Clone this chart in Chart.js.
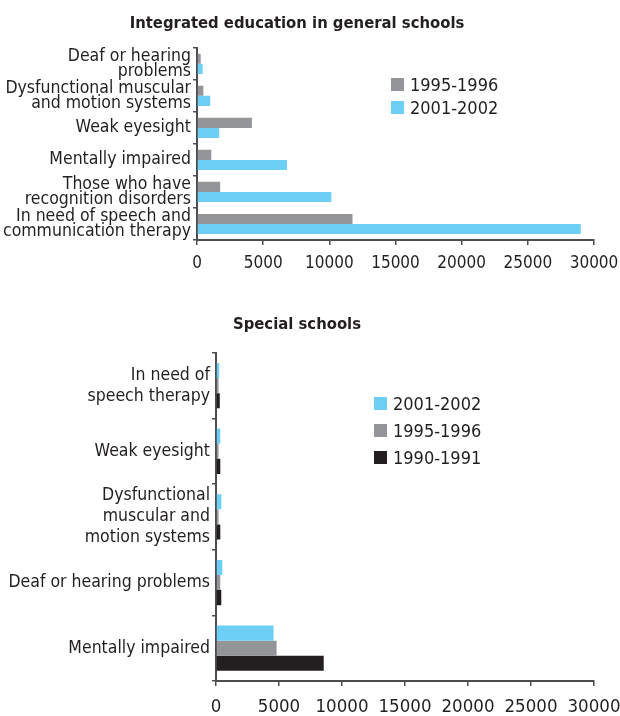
<!DOCTYPE html>
<html>
<head>
<meta charset="utf-8">
<script src="https://cdn.jsdelivr.net/npm/chart.js@4/dist/chart.umd.min.js"></script>
<style>
  body { margin: 0; background: #fff; width: 620px; height: 716px; position: relative; overflow: hidden; }
  canvas { position: absolute; left: 0; }
  #general { top: 0; }
  #special { top: 295px; }
  .legend { position: absolute; font-family: 'Liberation Sans Narrow', 'DejaVu Sans Condensed', sans-serif; font-size: 18px; color: #231f20; }
  .legend div { display: flex; align-items: center; white-space: nowrap; }
  .legend span.box { display: inline-block; width: 13px; height: 13px; margin-right: 6px; }
</style>
</head>
<body>
<canvas id="general" width="620" height="295"></canvas>
<canvas id="special" width="620" height="421"></canvas>
<div class="legend" id="general-legend" style="left:391px; top:73px;"></div>
<div class="legend" id="special-legend" style="left:374px; top:390px;"></div>
<script>
const fontFamily = "'Liberation Sans Narrow', 'DejaVu Sans Condensed', sans-serif";
const textColor = '#231f20';
const axisColor = '#4d4d4f';

const xTicks = [0, 5000, 10000, 15000, 20000, 25000, 30000];

// Integrated education in general schools
const generalLabels = [
  ['Deaf or hearing', 'problems'],
  ['Dysfunctional muscular', 'and motion systems'],
  'Weak eyesight',
  'Mentally impaired',
  ['Those who have', 'recognition disorders'],
  ['In need of speech and', 'communication therapy']
];
const general1995 = [280, 480, 4150, 1080, 1750, 11750];
const general2001 = [430, 1000, 1680, 6800, 10150, 29000];

// Special schools
const specialLabels = [
  ['In need of', 'speech therapy'],
  'Weak eyesight',
  ['Dysfunctional', 'muscular and', 'motion systems'],
  'Deaf or hearing problems',
  'Mentally impaired'
];
const special2001 = [250, 340, 420, 500, 4570];
const special1995 = [200, 200, 200, 340, 4810];
const special1990 = [300, 340, 340, 420, 8550];

const colors = { '1990-1991': '#231f20', '1995-1996': '#939598', '2001-2002': '#6dcff6' };

function makeChart(id, title, labels, series, o) {
  const datasets = series.map(s => ({
    label: s.label,
    data: s.data,
    backgroundColor: colors[s.label],
    borderWidth: 0,
    categoryPercentage: o.catPct,
    barPercentage: 1
  }));
  return new Chart(document.getElementById(id), {
    type: 'bar',
    data: { labels, datasets },
    options: {
      indexAxis: 'y',
      responsive: false,
      animation: false,
      layout: { padding: { left: 0, right: 26, top: 0, bottom: 0 } },
      plugins: {
        legend: { display: false },
        tooltip: { enabled: false },
        title: {
          display: true,
          text: title,
          color: textColor,
          font: { family: fontFamily, size: 16.5, weight: 'bold' },
          padding: o.titlePad
        }
      },
      scales: {
        x: {
          min: 0,
          max: 30000,
          ticks: {
            stepSize: 5000,
            autoSkip: false,
            maxRotation: 0,
            color: textColor,
            padding: o.xPad,
            font: { family: fontFamily, size: o.xFont },
            callback: v => xTicks.includes(v) ? String(v) : ''
          },
          grid: { drawOnChartArea: false, tickLength: 5, color: axisColor, lineWidth: 1.5 },
          border: { color: axisColor, width: 2 },
          afterFit: s => { s.height = o.xHeight; s.paddingRight = 0; }
        },
        y: {
          ticks: {
            autoSkip: false,
            color: textColor,
            padding: 2,
            font: { family: fontFamily, size: 17.5, lineHeight: o.lineHeight }
          },
          grid: { offset: true, drawOnChartArea: false, tickLength: 4, color: axisColor, lineWidth: 1.5 },
          border: { color: axisColor, width: 2 },
          afterFit: s => { s.width = o.yWidth; }
        }
      }
    }
  });
}

function makeLegend(id, labels, rowHeight) {
  const el = document.getElementById(id);
  labels.forEach(l => {
    const row = document.createElement('div');
    row.style.height = rowHeight + 'px';
    row.innerHTML = `<span class="box" style="background:${colors[l]}"></span>${l}`;
    el.appendChild(row);
  });
}

makeChart('general', 'Integrated education in general schools', generalLabels, [
  { label: '1995-1996', data: general1995 },
  { label: '2001-2002', data: general2001 }
], { catPct: 0.63, titlePad: { top: 14, bottom: 14 }, xPad: 8, xFont: 17, xHeight: 55, yWidth: 197, lineHeight: 0.86 });

makeChart('special', 'Special schools', specialLabels, [
  { label: '2001-2002', data: special2001 },
  { label: '1995-1996', data: special1995 },
  { label: '1990-1991', data: special1990 }
], { catPct: 0.69, titlePad: { top: 20, bottom: 18 }, xPad: 10, xFont: 18.5, xHeight: 35, yWidth: 216, lineHeight: 1.2 });

makeLegend('general-legend', ['1995-1996', '2001-2002'], 23);
makeLegend('special-legend', ['2001-2002', '1995-1996', '1990-1991'], 27);
</script>
</body>
</html>
